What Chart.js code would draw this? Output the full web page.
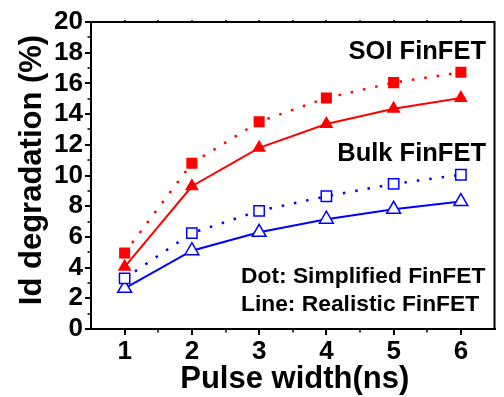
<!DOCTYPE html>
<html>
<head>
<meta charset="utf-8">
<script src="https://cdn.jsdelivr.net/npm/chart.js@4/dist/chart.umd.min.js"></script>
<style>
html,body{margin:0;padding:0;background:#fff;}
#wrap{width:504px;height:397px;position:relative;}
</style>
</head>
<body>
<div id="wrap"><canvas id="c" width="504" height="397"></canvas></div>
<script>
const pulseWidth = [1, 2, 3, 4, 5, 6];
const soiSimplified = [4.95, 10.8, 13.5, 15.05, 16.05, 16.72];
const soiRealistic = [4.05, 9.3, 11.8, 13.35, 14.35, 15.05];
const bulkSimplified = [3.3, 6.25, 7.7, 8.65, 9.45, 10.05];
const bulkRealistic = [2.65, 5.1, 6.3, 7.15, 7.8, 8.3];
const xTickLabels = [1, 2, 3, 4, 5, 6];
const yTickLabels = [0, 2, 4, 6, 8, 10, 12, 14, 16, 18, 20];
const xTitle = 'Pulse width(ns)';
const yTitle = 'Id degradation (%)';
const notes = ['SOI FinFET', 'Bulk FinFET', 'Dot: Simplified FinFET', 'Line: Realistic FinFET'];

const RED = '#ff0000', BLUE = '#0000ff';
const FONT = '"Liberation Sans", Arial, sans-serif';
const pts = arr => pulseWidth.map((x, i) => ({x: x, y: arr[i]}));

const frame = {
  id: 'frame',
  afterDraw(chart) {
    const ctx = chart.ctx, a = chart.chartArea;
    const xs = chart.scales.x, ys = chart.scales.y;
    ctx.save();
    ctx.strokeStyle = '#000';
    ctx.lineWidth = 2;
    ctx.beginPath();
    ctx.moveTo(a.left, a.top); ctx.lineTo(a.right, a.top); ctx.lineTo(a.right, a.bottom);
    ctx.stroke();
    // minor ticks
    ctx.lineWidth = 1.5;
    ctx.beginPath();
    for (let v = 1; v < 20; v += 2) {
      const y = Math.round(ys.getPixelForValue(v));
      ctx.moveTo(a.left, y); ctx.lineTo(a.left - 3.5, y);
    }
    for (let v = 1.5; v < 6.5; v += 1) {
      const x = Math.round(xs.getPixelForValue(v));
      ctx.moveTo(x, a.bottom); ctx.lineTo(x, a.bottom + 3.5);
    }
    for (let v = 1; v <= 6; v += 0.5) {
      const x = Math.round(xs.getPixelForValue(v));
      ctx.moveTo(x, a.top); ctx.lineTo(x, a.top - 2);
    }
    ctx.stroke();
    // axis titles
    ctx.fillStyle = '#000';
    ctx.font = 'bold 31px ' + FONT;
    ctx.textAlign = 'center';
    ctx.textBaseline = 'alphabetic';
    ctx.fillText(xTitle, (a.left + a.right) / 2 + 2, 388);
    ctx.save();
    ctx.translate(41, 170);
    ctx.rotate(-Math.PI / 2);
    ctx.fillText(yTitle, 0, 0);
    ctx.restore();
    // annotations
    ctx.textAlign = 'right';
    ctx.font = 'bold 25.5px ' + FONT;
    ctx.fillText(notes[0], 486, 59);
    ctx.fillText(notes[1], 486, 161);
    ctx.textAlign = 'left';
    ctx.font = 'bold 22.8px ' + FONT;
    ctx.fillText(notes[2], 241, 283);
    ctx.fillText(notes[3], 241, 311);
    ctx.restore();
  }
};

const tickFont = {family: FONT, size: 26, weight: 'bold'};

new Chart(document.getElementById('c'), {
  type: 'line',
  data: {
    datasets: [
      {data: pts(soiSimplified), borderColor: RED, backgroundColor: RED, borderWidth: 2.5, borderDash: [2.5, 10],
       pointStyle: 'rect', pointRadius: 7.8, pointBorderWidth: 0, pointBackgroundColor: RED},
      {data: pts(soiRealistic), borderColor: RED, backgroundColor: RED, borderWidth: 2,
       pointStyle: 'triangle', pointRadius: 8, pointBorderWidth: 0, pointBackgroundColor: RED},
      {data: pts(bulkSimplified), borderColor: BLUE, backgroundColor: '#fff', borderWidth: 2.5, borderDash: [2.5, 10],
       pointStyle: 'rect', pointRadius: 7.3, pointBorderWidth: 1.5, pointBackgroundColor: '#fff', pointBorderColor: BLUE},
      {data: pts(bulkRealistic), borderColor: BLUE, backgroundColor: '#fff', borderWidth: 2,
       pointStyle: 'triangle', pointRadius: 8, pointBorderWidth: 1.5, pointBackgroundColor: '#fff', pointBorderColor: BLUE}
    ]
  },
  options: {
    responsive: false,
    animation: false,
    events: [],
    layout: {padding: {top: 22, right: 1, left: 0, bottom: 0}},
    plugins: {legend: {display: false}, tooltip: {enabled: false}},
    elements: {line: {tension: 0, fill: false}},
    scales: {
      x: {
        type: 'linear', min: 0.5, max: 6.5,
        afterFit: s => { s.height = 68; },
        afterBuildTicks: s => { s.ticks = xTickLabels.map(v => ({value: v})); },
        grid: {display: true, drawOnChartArea: false, drawTicks: true, tickLength: 6, color: '#000', lineWidth: 2},
        border: {display: true, color: '#000', width: 2},
        ticks: {color: '#000', font: tickFont, padding: 1, maxRotation: 0, autoSkip: false}
      },
      y: {
        type: 'linear', min: 0, max: 20,
        afterFit: s => { s.width = 91; },
        afterBuildTicks: s => { s.ticks = yTickLabels.map(v => ({value: v})); },
        grid: {display: true, drawOnChartArea: false, drawTicks: true, tickLength: 6, color: '#000', lineWidth: 2},
        border: {display: true, color: '#000', width: 2},
        ticks: {color: '#000', font: tickFont, padding: 2, autoSkip: false}
      }
    }
  },
  plugins: [frame]
});
</script>
</body>
</html>
